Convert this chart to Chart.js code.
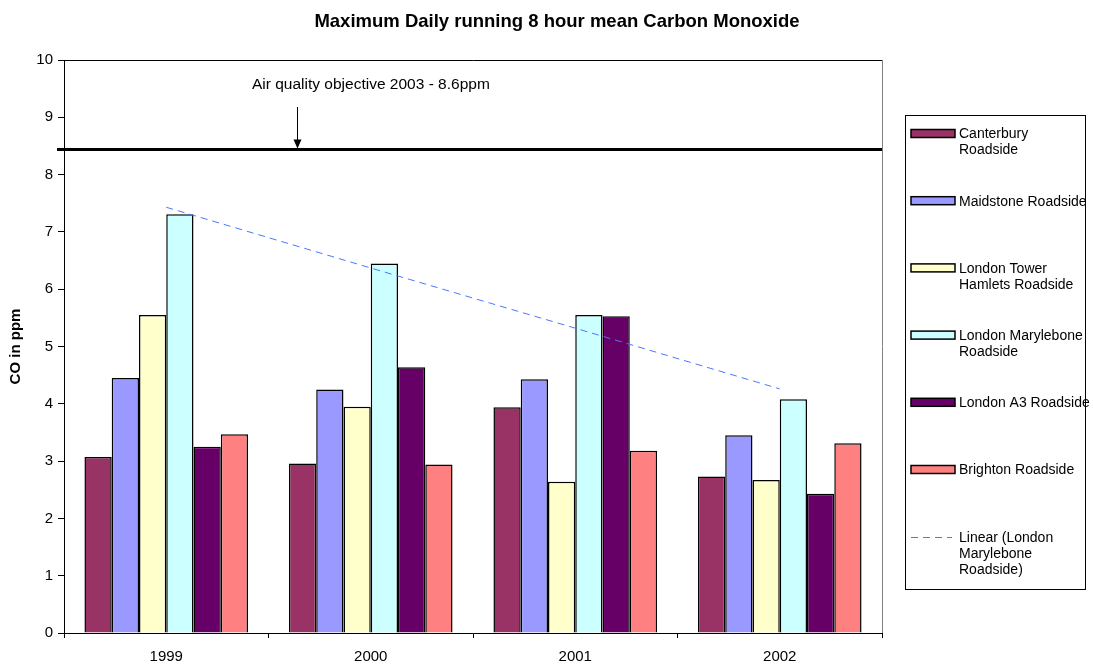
<!DOCTYPE html>
<html><head><meta charset="utf-8">
<script src="https://cdn.jsdelivr.net/npm/chart.js@4/dist/chart.umd.min.js"></script>
<style>html,body{margin:0;padding:0;background:#fff;}#wrap{width:1093px;height:664px;}</style>
</head><body><div id="wrap"><canvas id="c" width="1093" height="664"></canvas></div>
<script>
const categories = ["1999", "2000", "2001", "2002"];
const seriesNames = ["Canterbury Roadside", "Maidstone Roadside", "London Tower Hamlets Roadside", "London Marylebone Roadside", "London A3 Roadside", "Brighton Roadside"];
const canterbury = [3.07, 2.96, 3.94, 2.73];
const maidstone = [4.45, 4.25, 4.43, 3.45];
const towerHamlets = [5.55, 3.95, 2.64, 2.67];
const marylebone = [7.31, 6.45, 5.55, 4.08];
const londonA3 = [3.25, 4.64, 5.53, 2.43];
const brighton = [3.47, 2.94, 3.18, 3.31];
const trendName = "Linear (London Marylebone Roadside)";
const marylebonetrend = [7.43, 6.37, 5.32, 4.26];
const objectiveLevel = 8.44;
const objectiveLabel = "Air quality objective 2003 - 8.6ppm";
const titleText = "Maximum Daily running 8 hour mean Carbon Monoxide";
const yAxisTitle = "CO in ppm";
const yMin = 0, yMax = 10, yStep = 1;

const colors = ["#993366", "#9999FF", "#FFFFCC", "#CCFFFF", "#660066", "#FF8080"];
const legendWrap = {
  "Canterbury Roadside": ["Canterbury", "Roadside"],
  "Maidstone Roadside": ["Maidstone Roadside"],
  "London Tower Hamlets Roadside": ["London Tower", "Hamlets Roadside"],
  "London Marylebone Roadside": ["London Marylebone", "Roadside"],
  "London A3 Roadside": ["London A3 Roadside"],
  "Brighton Roadside": ["Brighton Roadside"],
  "Linear (London Marylebone Roadside)": ["Linear (London", "Marylebone", "Roadside)"]
};
const FONT = "'Liberation Sans', Arial, sans-serif";
const values = [canterbury, maidstone, towerHamlets, marylebone, londonA3, brighton];

const datasets = values.map((v, i) => ({
  type: 'bar', label: seriesNames[i], data: v,
  backgroundColor: colors[i], borderColor: '#000', borderWidth: 1.5,
  categoryPercentage: 0.8, barPercentage: 1.0, order: 2
}));
datasets.push({
  type: 'line', label: trendName, data: marylebonetrend,
  borderColor: '#4A78FF', borderWidth: 1, borderDash: [7, 5], pointRadius: 0,
  fill: false, tension: 0, order: 0
});

const decor = {
  id: 'decor',
  afterDraw(chart) {
    const ctx = chart.ctx, ca = chart.chartArea, y = chart.scales.y;
    ctx.save();
    ctx.strokeStyle = '#000'; ctx.lineWidth = 1;
    ctx.beginPath(); ctx.moveTo(ca.left, ca.top + 0.5); ctx.lineTo(ca.right + 0.5, ca.top + 0.5); ctx.stroke();
    ctx.strokeStyle = '#808080';
    ctx.beginPath(); ctx.moveTo(ca.right + 0.5, ca.top); ctx.lineTo(ca.right + 0.5, ca.bottom); ctx.stroke();
    const oy = y.getPixelForValue(objectiveLevel);
    ctx.strokeStyle = '#000'; ctx.lineWidth = 3;
    ctx.beginPath(); ctx.moveTo(ca.left - 7, oy); ctx.lineTo(ca.right, oy); ctx.stroke();
    const ax = Math.round(ca.left + 0.285 * (ca.right - ca.left)) + 0.5;
    const aTop = y.getPixelForValue(9.18);
    ctx.lineWidth = 1;
    ctx.beginPath(); ctx.moveTo(ax, aTop); ctx.lineTo(ax, oy - 6); ctx.stroke();
    ctx.fillStyle = '#000';
    ctx.beginPath(); ctx.moveTo(ax - 4, oy - 10); ctx.lineTo(ax + 4, oy - 10); ctx.lineTo(ax, oy - 1); ctx.closePath(); ctx.fill();
    ctx.font = "15.5px " + FONT; ctx.textAlign = 'left'; ctx.textBaseline = 'middle';
    ctx.fillText(objectiveLabel, ax - 45.5, y.getPixelForValue(9.56));
    ctx.font = "bold 18.5px " + FONT; ctx.textAlign = 'center';
    ctx.fillText(titleText, 557, 22);
    ctx.strokeStyle = '#000'; ctx.lineWidth = 1;
    ctx.strokeRect(905.5, 115.5, 180, 474);
    ctx.font = "14px " + FONT; ctx.textAlign = 'left';
    chart.data.datasets.forEach((ds, i) => {
      const cy = 133.5 + i * 67.2;
      if (ds.type === 'bar') {
        ctx.fillStyle = ds.backgroundColor;
        ctx.fillRect(911, cy - 4, 44, 8);
        ctx.strokeStyle = '#000'; ctx.lineWidth = 1.5;
        ctx.strokeRect(911, cy - 4, 44, 8);
      } else {
        ctx.strokeStyle = ds.borderColor; ctx.lineWidth = 1; ctx.setLineDash([7, 5]);
        ctx.beginPath(); ctx.moveTo(911, Math.round(cy) + 0.5); ctx.lineTo(952, Math.round(cy) + 0.5); ctx.stroke();
        ctx.setLineDash([]);
      }
      ctx.fillStyle = '#000';
      (legendWrap[ds.label] || [ds.label]).forEach((line, k) => ctx.fillText(line, 959, cy + 1 + k * 16));
    });
    ctx.restore();
  }
};

new Chart(document.getElementById('c'), {
  data: { labels: categories, datasets },
  options: {
    responsive: false, animation: false,
    layout: { padding: { top: 60, right: 211, left: 0, bottom: 0 } },
    plugins: { legend: { display: false }, title: { display: false }, tooltip: { enabled: false } },
    scales: {
      x: {
        type: 'category', offset: true,
        grid: { offset: true, drawOnChartArea: false, drawTicks: true, tickLength: 5, color: '#000' },
        border: { color: '#000', width: 1 },
        ticks: { color: '#000', font: { family: FONT, size: 15 }, padding: 10, maxRotation: 0 },
        afterFit(s) { s.height = 31; }
      },
      y: {
        min: yMin, max: yMax,
        ticks: { stepSize: yStep, color: '#000', font: { family: FONT, size: 15 }, padding: 5 },
        grid: { drawOnChartArea: false, drawTicks: true, tickLength: 6, color: '#000' },
        border: { color: '#000', width: 1 },
        title: { display: true, text: yAxisTitle, color: '#000', font: { family: FONT, size: 15, weight: 'bold' }, padding: { top: 7, bottom: 0 } },
        afterFit(s) { s.width = 64; }
      }
    }
  },
  plugins: [decor]
});
</script></body></html>
